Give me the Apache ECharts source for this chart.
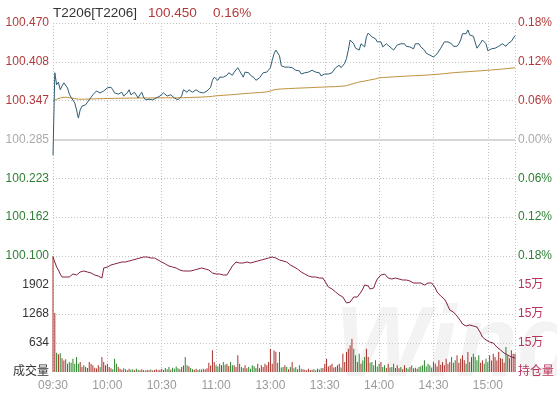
<!DOCTYPE html>
<html><head><meta charset="utf-8">
<script src="https://cdn.jsdelivr.net/npm/echarts/dist/echarts.min.js"></script>
<style>html,body{margin:0;padding:0;background:#fff}#c{width:557px;height:394px}</style>
</head><body><div id="c"></div>
<script>
// ---- tick labels ----
const timeTicks = ['09:30','10:00','10:30','11:00','13:00','13:30','14:00','14:30','15:00'];
const priceLabelsBase = 100.285;          // 0.00% level
const priceStep = 0.37 / 6;               // one grid step of the price panel
const pctStep = 0.06;                     // percent per grid step

// ---- minute categories (09:30-11:29, 13:00-15:15) ----
const categories = [];
function pad(n){return (n<10?'0':'')+n;}
function addSession(a,b){for(let m=a;m<=b;m++){categories.push(pad(Math.floor(m/60))+':'+pad(m%60));}}
addSession(570,689); addSession(780,915);

// ---- series values ----
const prices = [
100.260,100.391,100.372,100.376,100.364,100.370,100.375,100.372,100.367,100.357,
100.352,100.351,100.343,100.332,100.319,100.332,100.338,100.335,100.340,100.343,
100.348,100.352,100.356,100.359,100.362,100.364,100.359,100.360,100.362,100.365,
100.367,100.368,100.368,100.364,100.359,100.356,100.357,100.360,100.360,100.354,
100.351,100.359,100.364,100.356,100.354,100.360,100.357,100.351,100.356,100.360,
100.352,100.348,100.348,100.349,100.348,100.348,100.349,100.351,100.352,100.354,
100.356,100.359,100.357,100.354,100.352,100.356,100.354,100.351,100.349,100.348,
100.351,100.354,100.364,100.362,100.360,100.364,100.362,100.360,100.362,100.364,
100.362,100.360,100.360,100.359,100.360,100.362,100.365,100.368,100.379,100.384,
100.383,100.379,100.384,100.387,100.384,100.383,100.387,100.391,100.389,100.387,
100.392,100.395,100.399,100.394,100.389,100.384,100.392,100.395,100.391,100.387,
100.386,100.383,100.379,100.381,100.383,100.386,100.391,100.392,100.392,100.394,
100.399,100.411,100.421,100.427,100.424,100.418,100.402,100.400,100.400,100.399,
100.400,100.399,100.399,100.397,100.395,100.395,100.394,100.389,100.391,100.391,
100.392,100.392,100.394,100.395,100.394,100.392,100.392,100.391,100.386,100.387,
100.389,100.389,100.389,100.389,100.391,100.394,100.399,100.402,100.403,100.399,
100.402,100.406,100.414,100.427,100.443,100.445,100.437,100.430,100.433,100.427,
100.437,100.435,100.432,100.448,100.454,100.451,100.448,100.446,100.445,100.440,
100.438,100.440,100.432,100.430,100.437,100.437,100.432,100.430,100.427,100.430,
100.435,100.438,100.437,100.437,100.437,100.433,100.432,100.432,100.430,100.429,
100.437,100.438,100.437,100.432,100.430,100.427,100.422,100.421,100.419,100.418,
100.416,100.419,100.421,100.424,100.430,100.435,100.440,100.440,100.440,100.440,
100.437,100.433,100.432,100.433,100.437,100.443,100.453,100.456,100.453,100.459,
100.451,100.454,100.449,100.446,100.430,100.429,100.438,100.443,100.440,100.437,
100.426,100.427,100.429,100.430,100.430,100.432,100.433,100.435,100.437,100.437,
100.433,100.437,100.440,100.441,100.443,100.450];

const avgPrices = [
100.3460,100.3475,100.3490,100.3500,100.3510,100.3515,100.3520,100.3525,100.3520,100.3515,
100.3510,100.3505,100.3500,100.3495,100.3490,100.3490,100.3490,
100.3490,100.3491,100.3492,100.3493,100.3494,100.3495,100.3495,100.3496,100.3497,100.3498,
100.3499,100.3500,100.3500,100.3501,100.3501,100.3502,100.3502,100.3503,100.3503,
100.3504,100.3504,100.3505,100.3505,100.3506,100.3506,100.3507,100.3507,100.3508,100.3508,
100.3508,100.3509,100.3509,100.3509,100.3510,100.3510,100.3510,100.3510,
100.3510,100.3510,100.3511,100.3511,100.3511,100.3511,100.3512,100.3512,100.3512,100.3512,
100.3512,100.3512,100.3512,100.3512,100.3512,100.3512,100.3512,100.3513,100.3513,
100.3514,100.3515,100.3516,100.3518,100.3519,100.3520,100.3521,100.3522,100.3523,100.3524,
100.3526,100.3527,100.3528,100.3530,
100.3533,100.3537,100.3540,100.3543,100.3545,100.3548,100.3550,100.3552,100.3554,100.3556,
100.3558,100.3560,100.3562,100.3565,100.3567,100.3570,
100.3572,100.3575,100.3577,100.3580,100.3582,100.3584,100.3586,100.3588,100.3590,100.3592,
100.3594,100.3596,100.3598,100.3600,100.3603,100.3606,100.3610,
100.3620,100.3632,100.3640,100.3645,100.3648,100.3650,
100.3652,100.3654,100.3655,100.3657,100.3658,100.3660,100.3661,100.3662,100.3664,100.3665,
100.3666,100.3668,100.3669,100.3670,
100.3671,100.3672,100.3674,100.3675,100.3676,100.3677,100.3679,100.3680,100.3681,100.3682,
100.3683,100.3685,100.3686,100.3687,100.3688,100.3689,100.3690,100.3692,100.3694,100.3696,
100.3698,100.3700,
100.3705,100.3712,100.3722,100.3732,100.3740,100.3748,100.3755,100.3762,100.3768,100.3773,
100.3778,100.3784,100.3790,100.3796,100.3801,100.3806,100.3812,100.3820,100.3830,
100.3832,100.3834,100.3836,100.3838,100.3839,100.3841,100.3843,100.3845,100.3846,100.3848,
100.3850,100.3851,100.3853,100.3855,100.3856,100.3858,100.3859,100.3861,100.3862,100.3864,
100.3865,100.3867,100.3868,100.3869,100.3871,100.3872,100.3874,100.3876,100.3878,100.3880,
100.3882,100.3885,100.3887,100.3890,100.3893,100.3896,100.3899,100.3902,100.3905,100.3908,
100.3910,100.3913,100.3915,100.3917,100.3919,100.3921,100.3923,100.3925,100.3927,100.3929,
100.3931,100.3933,100.3935,100.3937,100.3939,100.3941,100.3943,100.3945,100.3947,100.3950,
100.3952,100.3954,100.3957,100.3959,100.3962,100.3964,100.3967,100.3969,100.3972,100.3975,
100.3977,100.3980,100.3983,100.3986,100.3990];

const volumes = [
2536,1290,420,390,410,300,250,280,180,220,
200,290,180,330,180,220,110,150,110,90,
220,180,150,95,75,150,110,330,220,150,
180,110,80,60,290,180,110,70,50,80,
60,40,70,50,60,40,70,50,40,60,
45,35,50,40,55,35,45,60,40,50,
70,45,90,60,110,50,95,70,120,80,
60,110,140,330,146,124,90,60,50,70,
45,60,50,70,60,80,200,140,475,220,
146,120,182,150,219,160,182,130,219,150,
146,110,365,182,109,90,146,80,109,70,
146,124,90,182,80,146,110,182,150,219,
510,180,470,440,200,437,100,109,146,109,
60,109,219,80,109,60,146,73,60,50,
40,70,45,50,60,40,70,55,80,90,
182,292,120,146,182,100,109,150,182,100,
401,219,437,510,583,729,510,365,219,401,
182,250,328,510,328,200,219,150,255,120,
182,219,110,146,90,182,100,109,182,90,
146,80,109,60,146,90,70,109,146,80,
95,70,110,124,146,255,120,182,150,100,
219,182,120,255,160,219,150,292,180,219,
328,200,255,365,200,292,365,255,180,437,
220,328,401,328,255,365,200,255,180,292,
220,365,250,401,328,250,437,300,292,200,
547,365,300,474,401,400];

const openInterest = [
153600,153100,152600,152300,151900,151600,151800,151600,151400,151600,
151800,151900,151900,151800,152000,152100,152200,152200,152100,152100,
152000,152000,151900,151800,151700,151700,151600,151500,152500,152600,
152600,152700,152800,152800,152900,152900,153000,153000,153100,153100,
153100,153200,153200,153200,153300,153300,153400,153500,153500,153600,
153600,153600,153600,153600,153500,153500,153500,153400,153300,153200,
153100,152900,152900,152800,152700,152700,152600,152600,152500,152400,
152300,152300,152200,152200,152200,152200,152200,152200,152300,152300,
152400,152400,152500,152500,152400,152400,152300,152100,152000,152000,
151900,151900,151900,151800,151800,151800,151800,152100,152300,152700,
152900,153100,153100,153000,153000,153000,153100,153100,153100,153000,
153000,153100,153100,153200,153300,153300,153400,153400,153500,153500,
153500,153600,153700,153500,153400,153300,153300,153200,153100,153100,
152900,152800,152700,152600,152500,152400,152200,152100,152000,151900,
151800,151700,151700,151600,151600,151600,151500,151500,151500,151500,
151200,150900,150600,150500,150400,150300,150100,149900,149800,149700,
149600,149300,149000,148800,149100,149300,149600,149800,149600,149700,
150100,150400,150800,151000,150700,150400,150400,150500,151000,151400,
151600,151800,152000,151900,151700,151500,151300,151400,151500,151500,
151400,151400,151400,151300,151300,151300,151300,151200,151100,151000,
151000,151000,151000,151000,151000,150800,150800,151000,151000,151000,
150900,150500,150100,149900,149700,149600,149400,149100,148700,148300,
148200,148100,148000,147700,147500,147200,146900,146700,146700,146700,
146800,146800,146700,146600,146600,146400,146000,145600,145400,145300,
145200,145100,145100,145000,144800,144600,144500,144300,144100,144000,
143900,143800,143700,143600,143500,143500];

[prices,avgPrices,volumes,openInterest].forEach((a,i)=>{ if(a.length!==categories.length) throw new Error('len '+i+' '+a.length+' vs '+categories.length); });

// ---- derived for plotting ----
const toStep = p => (p - priceLabelsBase) / priceStep;
const priceY = prices.map(toStep);
const avgY = avgPrices.map(toStep);
const volData = volumes.map((v,i)=>({value:v,itemStyle:{color:(i===0||prices[i]>=prices[i-1])?'#a8322c':'#2b852b'}}));

const RED='#b23a3a', GREEN='#2f8034', GRAY='#aaaaaa';
const FONT='Liberation Sans, Noto Sans CJK SC, sans-serif';
const gridLine={show:true,lineStyle:{color:'#c4c4c4',width:1,type:[1,2]}};
const isTick=(i,v)=>timeTicks.indexOf(v)>=0;
const isLine=(i,v)=>timeTicks.indexOf(v)>=0 || i===categories.length-1;

const chart = echarts.init(document.getElementById('c'), null, {renderer:'canvas'});
chart.setOption({
  animation:false,
  backgroundColor:'#fff',
  textStyle:{fontFamily:FONT},
  graphic:[
    {type:'text',left:335,top:298,z:-10,silent:true,style:{text:'Wind',fill:'#f3f3f3',font:'bold italic 100px Liberation Sans'}},
    {type:'text',x:53,y:13,style:{text:'T2206[T2206]',fill:'#333',font:'13.5px '+FONT,textVerticalAlign:'middle'}},
    {type:'text',x:148,y:13,style:{text:'100.450',fill:RED,font:'13.5px '+FONT,textVerticalAlign:'middle'}},
    {type:'text',x:213,y:13,style:{text:'0.16%',fill:RED,font:'13.5px '+FONT,textVerticalAlign:'middle'}}
  ],
  grid:[
    {left:53,right:42,top:23,height:233,outerBoundsMode:'none'},
    {left:53,right:42,top:256,height:116,outerBoundsMode:'none'}
  ],
  xAxis:[
    {type:'category',gridIndex:0,data:categories,boundaryGap:false,axisLine:{show:false},axisTick:{show:false,interval:isLine},axisLabel:{show:false,interval:isLine},splitLine:Object.assign({interval:isLine},gridLine)},
    {type:'category',gridIndex:1,data:categories,boundaryGap:false,axisLine:{show:false},axisTick:{show:false,interval:isLine},
     axisLabel:{show:true,interval:isTick,color:'#9a9a9a',fontSize:12,margin:8,fontFamily:FONT},
     splitLine:Object.assign({interval:isLine},gridLine)}
  ],
  yAxis:[
    {type:'value',gridIndex:0,min:-3,max:3,interval:1,position:'left',axisLine:{show:false},axisTick:{show:false},
     splitLine:gridLine,
     axisLabel:{fontSize:12,margin:4,fontFamily:FONT,formatter:v=>(priceLabelsBase+v*priceStep).toFixed(3),
       color:v=>v>0.01?RED:(v<-0.01?GREEN:GRAY)}},
    {type:'value',gridIndex:1,min:0,max:2536,interval:634,position:'left',axisLine:{show:false},axisTick:{show:false},
     splitLine:Object.assign({showMinLine:false,showMaxLine:false},gridLine),
     axisLabel:{fontSize:12,margin:4,fontFamily:FONT,color:'#333',showMaxLabel:false,formatter:v=>v===0?'成交量':String(v)}},
    {type:'value',gridIndex:0,min:-3,max:3,interval:1,position:'right',axisLine:{show:false},axisTick:{show:false},splitLine:{show:false},
     axisLabel:{fontSize:12,margin:3,fontFamily:FONT,formatter:v=>Math.abs(v*pctStep).toFixed(2)+'%',
       color:v=>v>0.01?RED:(v<-0.01?GREEN:GRAY)}},
    {type:'value',gridIndex:1,min:142100,max:153700,interval:2900,position:'right',axisLine:{show:false},axisTick:{show:false},splitLine:{show:false},
     axisLabel:{fontSize:12,margin:3,fontFamily:FONT,color:'#b8325a',showMaxLabel:false,formatter:v=>v===142100?'持仓量':Math.round(v/10000)+'万'}}
  ],
  series:[
    {type:'line',name:'price',xAxisIndex:0,yAxisIndex:0,data:priceY,symbol:'none',lineStyle:{color:'#2f5d73',width:1},z:4,
     markLine:{silent:true,symbol:['none','none'],label:{show:false},lineStyle:{color:'#d6d6d6',width:2,type:'solid'},data:[{yAxis:0}],z:1}},
    {type:'line',name:'avg',xAxisIndex:0,yAxisIndex:0,data:avgY,symbol:'none',lineStyle:{color:'#c0903c',width:1},z:3},
    {type:'bar',name:'vol',xAxisIndex:1,yAxisIndex:1,data:volData,barWidth:1,z:2},
    {type:'line',name:'oi',xAxisIndex:1,yAxisIndex:3,data:openInterest,symbol:'none',lineStyle:{color:'#86203e',width:1},z:4}
  ]
});
</script></body></html>
